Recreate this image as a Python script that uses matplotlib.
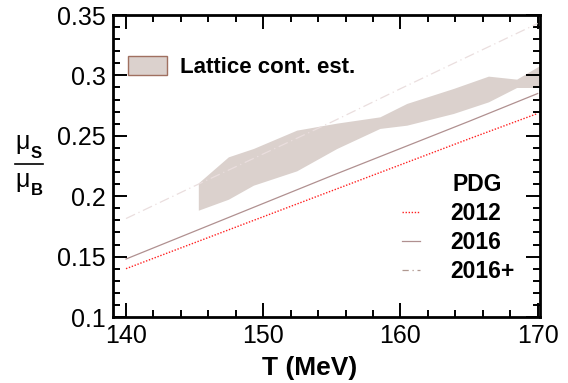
import matplotlib.pyplot as plt
from matplotlib.lines import Line2D
from matplotlib.patches import Patch

plt.rcParams['font.family'] = ['Liberation Sans', 'DejaVu Sans']

# PDG hadron resonance gas curves
T_line = [140, 145, 150, 155, 160, 165, 170]
pdg2012 = [0.140, 0.1615, 0.183, 0.2045, 0.226, 0.2475, 0.2685]
pdg2016 = [0.148, 0.171, 0.194, 0.217, 0.2395, 0.262, 0.285]
pdg2016p = [0.1815, 0.2085, 0.235, 0.2615, 0.289, 0.316, 0.343]

# lattice continuum estimate band
T_band = [145.27, 147.46, 149.28, 152.44, 155.36, 158.5, 160.46, 163.86, 166.41, 168.47, 170.2]
band_hi = [0.211, 0.2326, 0.2395, 0.2547, 0.2605, 0.2657, 0.2768, 0.2892, 0.2994, 0.2969, 0.3085]
band_lo = [0.1884, 0.1975, 0.2091, 0.221, 0.2395, 0.2561, 0.2588, 0.2685, 0.2781, 0.290, 0.290]

fig = plt.figure(figsize=(5.68, 3.83), dpi=100)
ax = fig.add_axes([0.1984, 0.1723, 0.7523, 0.7885])

ax.fill_between(T_band, band_lo, band_hi, color='#dbd1cd', lw=0)
ax.plot(T_line, pdg2016p, color='#eadede', lw=0.9, ls=(0, (8, 3, 1, 3)))
ax.plot(T_line, pdg2016, color='#b09090', lw=0.9)
ax.plot(T_line, pdg2012, color='#ff2020', lw=1.0, ls=(0, (1, 1.2)))

ax.set_xlim(139.03, 170.17)
ax.set_ylim(0.1, 0.35)
ax.set_xticks([140, 150, 160, 170])
ax.set_xticks(range(140, 171, 2), minor=True)
ax.set_yticks([0.1, 0.15, 0.2, 0.25, 0.3, 0.35])
ax.set_yticklabels(['0.1', '0.15', '0.2', '0.25', '0.3', '0.35'])
ax.set_yticks([0.1 + 0.01 * i for i in range(26)], minor=True)
ax.tick_params(which='both', direction='in', top=True, right=True, labelsize=18, width=1.4)
ax.tick_params(which='major', length=10, pad=5)
ax.tick_params(which='minor', length=5)
for s in ax.spines.values():
    s.set_linewidth(2)

ax.set_xlabel('T (MeV)', fontsize=19, fontweight='bold', va='center')
ax.xaxis.set_label_coords(0.462, -0.168)

# y label as stacked fraction
fig.text(15 / 568, 1 - 142 / 383, 'μ', fontsize=18, va='center', ha='left')
fig.text(31 / 568, 1 - 154 / 383, 'S', fontsize=12, fontweight='bold', va='center', ha='left')
fig.add_artist(Line2D([15 / 568, 43 / 568], [1 - 164 / 383, 1 - 164 / 383], color='black', lw=1.2))
fig.text(15 / 568, 1 - 180 / 383, 'μ', fontsize=18, va='center', ha='left')
fig.text(31 / 568, 1 - 191 / 383, 'B', fontsize=12, fontweight='bold', va='center', ha='left')

leg1 = ax.legend([Patch(facecolor='#dbd1cd', edgecolor='#a07060', lw=1)], ['Lattice cont. est.'],
                 loc='upper left', bbox_to_anchor=(0.0, 0.915), frameon=False,
                 prop={'size': 16, 'weight': 'bold'}, handlelength=1.75, handleheight=0.95,
                 handletextpad=0.6, borderaxespad=0.3)
ax.add_artist(leg1)

ax.text(0.795, 0.44, 'PDG', transform=ax.transAxes, fontsize=16.5, fontweight='bold', va='center', ha='left')
handles = [Line2D([], [], color='#ff2020', lw=1.0, ls=(0, (1, 1.2))),
           Line2D([], [], color='#b09090', lw=0.9),
           Line2D([], [], color='#b09890', lw=0.9, ls=(0, (5, 3, 1, 3)))]
ax.legend(handles, ['2012', '2016', '2016+'], loc='upper left', bbox_to_anchor=(0.655, 0.41),
          frameon=False, prop={'size': 16.5, 'weight': 'bold'}, handlelength=0.8,
          handletextpad=1.3, labelspacing=0.25, borderaxespad=0.0)

fig.savefig('out.png', dpi=100)
